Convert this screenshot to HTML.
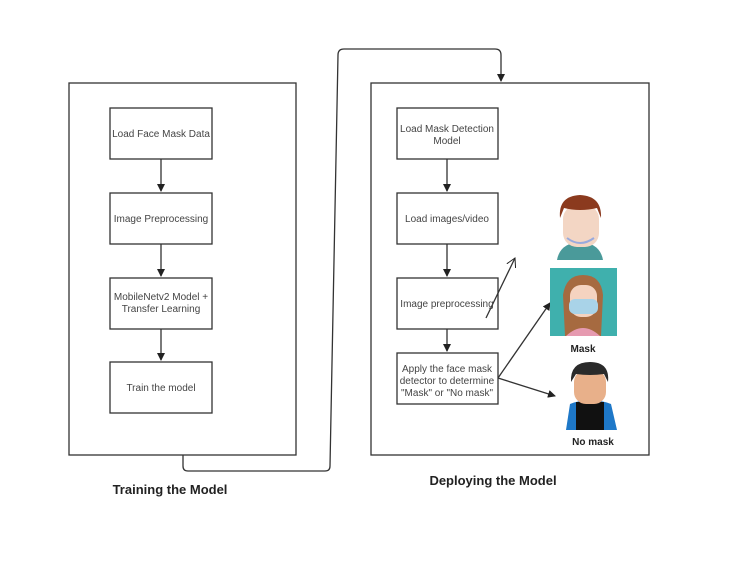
<!DOCTYPE html>
<html><head><style>body{margin:0;background:#fff}</style></head><body>
<svg width="739" height="564" xmlns="http://www.w3.org/2000/svg" font-family="Liberation Sans, sans-serif">
<defs><marker id="a" markerWidth="8" markerHeight="8" refX="7" refY="4" orient="auto" markerUnits="userSpaceOnUse"><path d="M0,0L8,4L0,8z" fill="#222"/></marker>
<marker id="o" markerWidth="10" markerHeight="10" refX="9" refY="5" orient="auto" markerUnits="userSpaceOnUse"><path d="M0,0L9,5L0,10" fill="none" stroke="#222"/></marker></defs>
<g fill="none" stroke="#333" stroke-width="1.3">
<rect x="69" y="83" width="227" height="372"/>
<rect x="371" y="83" width="278" height="372"/>
<rect x="110" y="108" width="102" height="51"/><rect x="110" y="193" width="102" height="51"/>
<rect x="110" y="278" width="102" height="51"/><rect x="110" y="362" width="102" height="51"/>
<rect x="397" y="108" width="101" height="51"/><rect x="397" y="193" width="101" height="51"/>
<rect x="397" y="278" width="101" height="51"/><rect x="397" y="353" width="101" height="51"/>
<path d="M183,455V466Q183,471 188,471H325Q330,471 330,466L338,55Q338,49 344,49H495Q501,49 501,55V81" marker-end="url(#a)"/>
<g marker-end="url(#a)">
<path d="M161,159V191"/><path d="M161,244V276"/><path d="M161,329V360"/>
<path d="M447,159V191"/><path d="M447,244V276"/><path d="M447,329V351"/>
<path d="M498,378L550,303"/><path d="M498,378L555,396"/></g>
<path d="M486,318L515,258" marker-end="url(#o)"/>
</g>
<g font-size="10" fill="#444" text-anchor="middle">
<text x="161" y="137">Load Face Mask Data</text>
<text x="161" y="222">Image Preprocessing</text>
<text x="161" y="300">MobileNetv2 Model +</text><text x="161" y="312">Transfer Learning</text>
<text x="161" y="391">Train the model</text>
<text x="447" y="132">Load Mask Detection</text><text x="447" y="144">Model</text>
<text x="447" y="222">Load images/video</text>
<text x="447" y="307">Image preprocessing</text>
<text x="447" y="372">Apply the face mask</text><text x="447" y="384">detector to determine</text><text x="447" y="396">"Mask" or "No mask"</text>
</g>
<!-- boy 1 -->
<path d="M557,260Q560,243 580,242Q600,243 603,260Z" fill="#4a9a9a"/>
<rect x="563" y="205" width="36" height="42" rx="14" fill="#f3d6c4"/>
<path d="M560,218Q558,196 580,195Q602,196 601,218L597,208Q580,212 564,208Z" fill="#8b3a1e"/>
<path d="M567,238Q580,248 594,238" stroke="#9ad" fill="none" stroke-width="2"/>
<!-- girl -->
<rect x="550" y="268" width="67" height="68" fill="#3fb0ad"/>
<path d="M565,336L563,295Q566,275 583,275Q601,275 603,295L601,336Z" fill="#a66a40"/>
<rect x="570" y="285" width="27" height="32" rx="11" fill="#f5d3c0"/>
<path d="M566,336Q583,320 600,336Z" fill="#e69ab0"/>
<rect x="569" y="299" width="29" height="15" rx="6" fill="#a9d3e8"/>
<!-- boy 2 -->
<path d="M566,430L570,404Q590,396 611,404L617,430Z" fill="#1e78c8"/>
<rect x="576" y="402" width="28" height="28" fill="#111"/>
<rect x="574" y="370" width="32" height="34" rx="12" fill="#e8b08a"/>
<path d="M571,382Q570,362 590,362Q610,362 608,382L604,374Q590,376 576,374Z" fill="#2a2a2a"/>
<g font-weight="bold" fill="#222" text-anchor="middle">
<text x="583" y="352" font-size="10">Mask</text>
<text x="593" y="445" font-size="10">No mask</text>
<text x="170" y="494" font-size="13">Training the Model</text>
<text x="493" y="485" font-size="13">Deploying the Model</text>
</g>
</svg>
</body></html>
